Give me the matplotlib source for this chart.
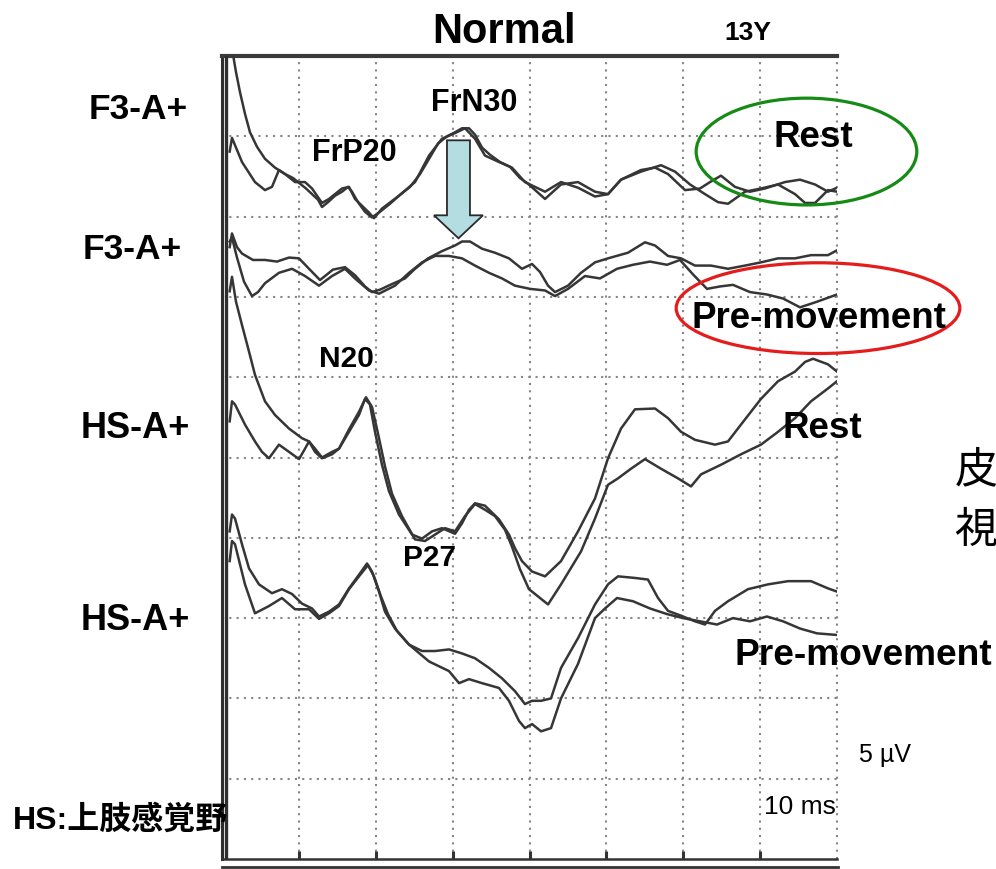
import numpy as np
import matplotlib
matplotlib.use("Agg")
import matplotlib.pyplot as plt
from matplotlib.patches import Ellipse, FancyArrow
from matplotlib.lines import Line2D

plt.rcParams['font.family'] = ['Liberation Sans', 'Noto Sans CJK JP', 'DejaVu Sans']

# Averaged responses: (latency in ms, amplitude in grid divisions from the bottom)
# F3-A+ at rest, two superimposed averages
f3_rest_1 = [(1.2, 10.15), (1.82, 9.80), (2.34, 9.55), (2.99, 9.28), (3.64, 9.05),
             (4.55, 8.87), (5.59, 8.72), (6.89, 8.61), (8.20, 8.53), (9.24, 8.48),
             (10.15, 8.41), (10.93, 8.35), (11.71, 8.28), (12.49, 8.21), (13.01, 8.12),
             (13.79, 8.18), (14.70, 8.26), (15.61, 8.31), (16.39, 8.37), (16.91, 8.31),
             (17.69, 8.18), (18.60, 8.06), (19.51, 7.99), (20.55, 8.06), (21.85, 8.16),
             (23.15, 8.27), (24.46, 8.37), (25.76, 8.53), (27.06, 8.74), (28.10, 8.91),
             (29.27, 9.00), (30.31, 9.05), (31.22, 9.10), (32.13, 9.10), (32.91, 9.02),
             (33.82, 8.86), (34.86, 8.77), (36.16, 8.68), (37.46, 8.62), (38.76, 8.48),
             (39.80, 8.41), (42.02, 8.22), (44.10, 8.40), (46.31, 8.43), (48.52, 8.31),
             (50.21, 8.28), (51.90, 8.46), (54.50, 8.56), (57.11, 8.64), (58.93, 8.56),
             (60.88, 8.40), (62.83, 8.28), (64.52, 8.18), (65.82, 8.16), (68.03, 8.31),
             (70.11, 8.35), (72.33, 8.40), (74.54, 8.28), (75.84, 8.17), (77.14, 8.17),
             (78.83, 8.33), (80.0, 8.31)]
f3_rest_2 = [(1.0, 8.81), (1.30, 8.98), (2.60, 8.68), (4.29, 8.43), (5.59, 8.33),
             (6.50, 8.37), (7.41, 8.58), (8.20, 8.53), (9.50, 8.43), (10.80, 8.43),
             (11.71, 8.35), (13.01, 8.17), (13.92, 8.22), (15.61, 8.35), (16.52, 8.37),
             (17.30, 8.22), (19.12, 8.05), (19.77, 7.98), (20.81, 8.10), (23.02, 8.26),
             (25.11, 8.43), (26.93, 8.76), (28.62, 8.97), (30.31, 9.04), (31.61, 9.10),
             (32.91, 8.97), (34.21, 8.76), (36.03, 8.68), (37.72, 8.61), (39.41, 8.43),
             (42.02, 8.31), (44.10, 8.43), (46.31, 8.36), (48.52, 8.25), (50.21, 8.28),
             (51.90, 8.46), (54.50, 8.58), (56.33, 8.61), (58.02, 8.53), (60.23, 8.33),
             (62.18, 8.35), (63.48, 8.43), (64.91, 8.51), (66.73, 8.37), (68.68, 8.31),
             (70.63, 8.35), (73.23, 8.43), (75.19, 8.46), (77.14, 8.40), (78.83, 8.31),
             (80.0, 8.36)]

# F3-A+ before movement
f3_pre_1 = [(1.0, 7.62), (1.30, 7.79), (1.95, 7.62), (2.60, 7.54), (4.03, 7.46),
            (5.59, 7.46), (7.15, 7.44), (8.72, 7.49), (10.02, 7.48), (11.32, 7.35),
            (12.75, 7.21), (14.44, 7.34), (16.00, 7.37), (17.30, 7.27), (18.60, 7.13),
            (19.51, 7.06), (20.55, 7.09), (22.11, 7.16), (23.80, 7.23), (25.11, 7.35),
            (26.80, 7.48), (28.62, 7.57), (30.31, 7.64), (31.22, 7.69), (32.26, 7.69),
            (33.82, 7.60), (35.51, 7.55), (37.33, 7.48), (39.02, 7.35), (40.33, 7.41),
            (41.37, 7.31), (42.41, 7.14), (43.32, 7.06), (45.01, 7.14), (46.70, 7.30),
            (48.52, 7.43), (50.21, 7.48), (52.81, 7.55), (55.02, 7.68), (56.33, 7.64),
            (58.02, 7.51), (59.71, 7.48), (61.53, 7.39), (63.61, 7.39), (65.82, 7.35),
            (68.03, 7.39), (70.11, 7.43), (72.33, 7.48), (74.54, 7.48), (76.62, 7.52),
            (78.83, 7.52), (80.0, 7.58)]
f3_pre_2 = [(1.0, 7.69), (1.30, 7.74), (1.95, 7.49), (2.86, 7.19), (3.90, 7.01),
            (4.68, 7.06), (5.59, 7.17), (7.41, 7.30), (9.11, 7.35), (10.80, 7.26),
            (12.62, 7.14), (14.31, 7.26), (16.00, 7.35), (17.30, 7.23), (19.12, 7.08),
            (20.42, 7.04), (22.50, 7.14), (24.33, 7.30), (26.02, 7.43), (27.71, 7.51),
            (29.53, 7.51), (31.22, 7.48), (32.91, 7.39), (34.73, 7.30), (36.42, 7.23),
            (38.11, 7.14), (40.07, 7.10), (42.02, 7.08), (43.32, 7.01), (45.01, 7.10),
            (47.22, 7.26), (49.17, 7.23), (51.38, 7.35), (53.46, 7.40), (55.67, 7.44),
            (57.89, 7.40), (59.58, 7.46), (61.27, 7.28), (63.09, 7.10), (64.78, 7.13),
            (66.47, 7.15), (68.68, 7.06), (70.89, 7.03), (72.98, 6.98), (75.19, 6.87),
            (77.40, 6.94), (80.0, 7.03)]

# HS-A+ at rest
hs_rest_1 = [(1.0, 7.07), (1.30, 7.25), (1.82, 6.94), (2.60, 6.65), (3.51, 6.32),
             (4.29, 6.03), (5.59, 5.70), (6.89, 5.53), (8.72, 5.36), (10.41, 5.24),
             (11.32, 5.20), (12.10, 5.07), (13.01, 4.99), (14.31, 5.04), (15.22, 5.11),
             (16.52, 5.32), (17.82, 5.53), (18.60, 5.73), (19.25, 5.66), (19.90, 5.32),
             (20.81, 4.91), (21.72, 4.58), (23.02, 4.29), (24.72, 4.04), (26.02, 3.99),
             (27.32, 4.08), (28.62, 4.12), (30.31, 4.05), (31.22, 4.18), (32.13, 4.35),
             (32.91, 4.43), (34.21, 4.40), (36.03, 4.23), (37.33, 4.04), (38.11, 3.87),
             (39.02, 3.71), (40.33, 3.58), (42.02, 3.52), (44.10, 3.71), (46.31, 4.08),
             (48.52, 4.49), (50.21, 4.99), (51.90, 5.36), (53.72, 5.60), (56.33, 5.61),
             (58.02, 5.49), (59.71, 5.32), (61.53, 5.22), (64.13, 5.16), (65.82, 5.20),
             (67.51, 5.41), (70.11, 5.73), (72.33, 5.95), (74.54, 6.07), (75.84, 6.19),
             (76.88, 6.23), (78.83, 6.16), (80.0, 6.07)]
hs_rest_2 = [(1.0, 5.45), (1.30, 5.70), (1.69, 5.66), (2.99, 5.41), (4.29, 5.20),
             (5.20, 5.07), (6.11, 4.99), (7.41, 5.16), (8.72, 5.07), (10.02, 4.98),
             (10.80, 5.11), (11.32, 5.20), (12.10, 5.11), (13.01, 5.00), (14.31, 5.07),
             (15.22, 5.11), (16.52, 5.35), (17.82, 5.57), (18.73, 5.75), (19.51, 5.63),
             (20.29, 5.30), (21.20, 4.89), (22.11, 4.55), (23.41, 4.27), (25.11, 3.98),
             (26.41, 3.96), (27.71, 4.04), (29.01, 4.12), (30.31, 4.08), (31.61, 4.27),
             (32.91, 4.42), (34.21, 4.35), (35.51, 4.27), (36.81, 4.10), (37.72, 3.89),
             (38.76, 3.61), (39.93, 3.36), (40.72, 3.30), (42.41, 3.17), (44.10, 3.42),
             (46.70, 3.83), (48.52, 4.24), (50.21, 4.66), (51.51, 4.74), (53.20, 4.86),
             (55.02, 4.98), (57.11, 4.86), (59.32, 4.74), (61.01, 4.64), (62.31, 4.79),
             (64.91, 4.91), (67.51, 5.04), (70.11, 5.16), (72.33, 5.32), (74.54, 5.49),
             (76.62, 5.70), (78.83, 5.86), (80.0, 5.95)]

# HS-A+ before movement
hs_pre_1 = [(1.0, 4.08), (1.30, 4.29), (1.69, 4.24), (2.60, 3.92), (3.51, 3.62),
            (4.81, 3.42), (6.50, 3.31), (7.80, 3.36), (9.11, 3.30), (10.41, 3.18),
            (11.71, 3.12), (12.62, 3.02), (13.92, 3.08), (15.22, 3.17), (16.52, 3.37),
            (17.82, 3.54), (18.86, 3.68), (19.51, 3.58), (20.42, 3.33), (21.20, 3.08),
            (22.50, 2.87), (24.33, 2.67), (26.02, 2.59), (27.71, 2.59), (29.53, 2.61),
            (31.22, 2.56), (32.91, 2.50), (34.73, 2.38), (36.42, 2.25), (38.11, 2.09),
            (39.41, 1.93), (40.33, 1.97), (41.50, 1.97), (42.80, 2.00), (44.10, 2.38),
            (46.31, 2.75), (48.52, 3.17), (50.21, 3.42), (51.51, 3.52), (53.72, 3.50),
            (55.41, 3.48), (56.72, 3.25), (58.02, 3.09), (59.71, 3.03), (61.53, 2.96),
            (62.83, 2.92), (64.13, 3.09), (65.82, 3.21), (68.42, 3.36), (71.02, 3.42),
            (73.63, 3.46), (76.62, 3.46), (78.83, 3.37), (80.0, 3.33)]
hs_pre_2 = [(1.0, 3.71), (1.30, 3.96), (1.69, 3.92), (2.99, 3.42), (4.29, 3.06),
            (6.11, 3.15), (7.80, 3.25), (9.50, 3.11), (11.32, 3.11), (12.62, 2.99),
            (13.92, 3.06), (15.22, 3.15), (16.52, 3.36), (17.82, 3.52), (18.99, 3.66),
            (19.77, 3.52), (20.68, 3.27), (21.59, 3.05), (22.76, 2.84), (24.33, 2.67),
            (26.93, 2.46), (29.53, 2.34), (30.83, 2.19), (32.13, 2.24), (33.82, 2.19),
            (36.03, 2.13), (37.33, 1.97), (38.63, 1.72), (39.41, 1.63), (40.33, 1.68),
            (41.50, 1.59), (42.80, 1.63), (44.10, 2.00), (46.31, 2.43), (48.52, 3.00),
            (49.82, 3.12), (51.38, 3.25), (53.46, 3.21), (55.67, 3.12), (57.89, 3.05),
            (59.97, 3.00), (62.18, 2.96), (64.39, 2.92), (66.47, 3.00), (68.68, 2.96),
            (70.89, 3.02), (72.98, 2.96), (75.19, 2.87), (77.40, 2.81), (80.0, 2.79)]

traces = [f3_rest_1, f3_rest_2, f3_pre_1, f3_pre_2,
          hs_rest_1, hs_rest_2, hs_pre_1, hs_pre_2]

sweep_ms = 80
divisions = 10

W, H = 996, 870
fig = plt.figure(figsize=(W / 100, H / 100), dpi=100)


def fpos(x, y):
    """Pixel position on the sheet -> figure fraction."""
    return x / W, 1 - y / H


ax = fig.add_axes([222 / W, 10 / H, 615 / W, 803 / H])
ax.set_xlim(0, sweep_ms)
ax.set_ylim(0, divisions)

# dotted graticule
dot = dict(color='#858585', lw=1.5, ls=(0, (1, 2.5)), zorder=1)
for xv in range(10, sweep_ms + 1, 10):
    ax.axvline(xv, clip_on=False, **dot)
for yv in range(1, divisions):
    ax.axhline(yv, **dot)

# frame
ax.spines['right'].set_visible(False)
ax.spines['top'].set_linewidth(3.0)
ax.spines['top'].set_color('#3a3a3a')
ax.spines['left'].set_linewidth(2.2)
ax.spines['left'].set_color('#2e2e2e')
ax.spines['bottom'].set_linewidth(1.8)
ax.spines['bottom'].set_color('#333333')
ax.axvline(0.5, color='#2e2e2e', lw=2.4, zorder=4)
ax.set_xticks(range(10, sweep_ms, 10))
ax.set_yticks([])
ax.tick_params(axis='x', direction='in', length=6, width=2.2,
               color='#333333', labelbottom=False)
fig.add_artist(Line2D([222 / W, 838 / W], [2.5 / H, 2.5 / H],
                      color='#333333', lw=2.0))

# traces
for tr in traces:
    t, v = np.array(tr).T
    ax.plot(t, v, color='#363636', lw=1.8, zorder=3, solid_joinstyle='round')

# condition rings
ax.add_patch(Ellipse((76.03, 8.81), 28.7, 1.33, fill=False, ec='#158a15',
                     lw=2.3, clip_on=False, zorder=5))
ax.add_patch(Ellipse((77.53, 6.86), 36.9, 1.13, fill=False, ec='#e41c1c',
                     lw=2.3, clip_on=False, zorder=5))

# FrN30 attenuation arrow
ax.add_patch(FancyArrow(30.76, 8.95, 0, -1.22, width=2.99, head_width=6.37,
                        head_length=0.286, length_includes_head=True,
                        fc='#b3dde0', ec='#2a2a2a', lw=1.3, zorder=6))

bold = dict(fontweight='bold', color='black', ha='center', va='baseline')
labels = [
    ("Normal", 504, 43, 30),
    ("13Y", 748, 40, 19),
    ("F3-A+", 138, 119, 25.5),
    ("F3-A+", 132, 259, 25.5),
    ("HS-A+", 135, 438, 26),
    ("HS-A+", 135, 630, 26),
    ("FrP20", 354, 161, 22),
    ("FrN30", 474, 111, 22),
    ("Rest", 813, 147, 26.5),
    ("Pre-movement", 819, 328, 26.5),
    ("N20", 346, 367, 21.5),
    ("P27", 430, 566, 21.5),
    ("Rest", 822, 438, 26.5),
    ("Pre-movement", 863, 665, 26.7),
    ("HS:上肢感覚野", 120, 829, 23),
]
for s, x, y, size in labels:
    fig.text(*fpos(x, y), s, fontsize=size, **bold)

plain = dict(color='black', ha='center', va='baseline', fontweight='normal')
fig.text(*fpos(885, 762), "5 µV", fontsize=18, **plain)
fig.text(*fpos(800, 814), "10 ms", fontsize=19, **plain)
fig.text(*fpos(976, 482), "皮", fontsize=31, family=['Noto Sans CJK JP'], **plain)
fig.text(*fpos(976, 543), "視", fontsize=31, family=['Noto Sans CJK JP'], **plain)

fig.savefig("out.png", dpi=100)
